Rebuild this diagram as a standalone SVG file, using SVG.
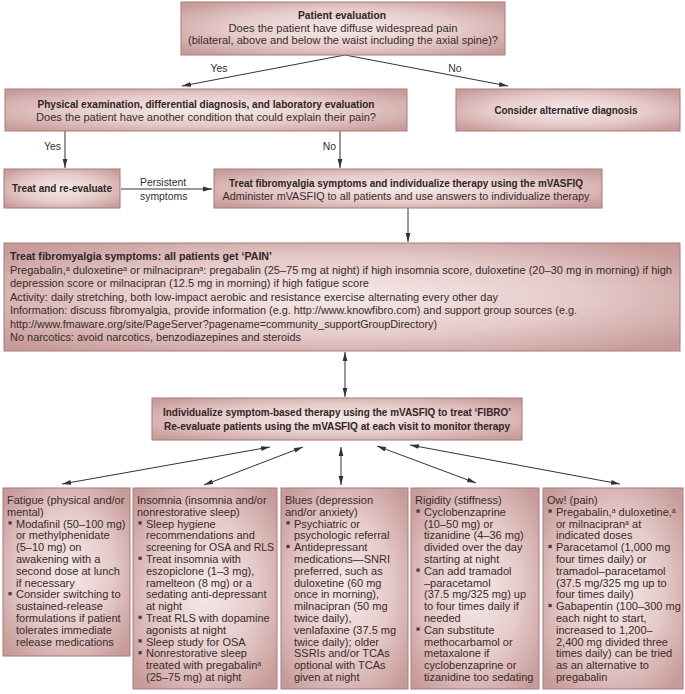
<svg xmlns="http://www.w3.org/2000/svg" width="685" height="694" viewBox="0 0 685 694">
<defs>
<radialGradient id="g" cx="50%" cy="50%" r="65%">
<stop offset="0" stop-color="#f5eaea"/>
<stop offset="0.55" stop-color="#e5cbc9"/>
<stop offset="1" stop-color="#c79b99"/>
</radialGradient>
<marker id="ah" viewBox="0 0 9 6" refX="9" refY="3" markerWidth="9" markerHeight="6" orient="auto-start-reverse" markerUnits="userSpaceOnUse">
<path d="M0,0.6 L9,3 L0,5.4 z" fill="#333"/>
</marker>
<style>
.box{fill:url(#g);stroke:#a67c7a;stroke-width:1}
text{font-family:"Liberation Sans",Arial,Helvetica,sans-serif;font-size:10.8px;fill:#3a2b2b}
.h{font-weight:bold;fill:#332525}
.c{text-anchor:middle}
.s{font-size:11px}
.lb{font-size:10.4px;fill:#2f2f2f}
.sup{font-size:7px}
.ln{stroke:#333;stroke-width:1;fill:none}
.a1{marker-end:url(#ah)}
.a2{marker-start:url(#ah);marker-end:url(#ah)}
.b{fill:#4a3838}
</style>
</defs>
<rect width="685" height="694" fill="#ffffff"/>

<g id="connectors">
<path class="ln a1" d="M345,55 L182,86"/>
<path class="ln a1" d="M345,55 L508,86"/>
<path class="ln a1" d="M65,131 L65,168"/>
<path class="ln a1" d="M340,131 L340,168"/>
<path class="ln a1" d="M121,189 L212,189"/>
<path class="ln a1" d="M408,208 L408,242"/>
<path class="ln a2" d="M345,352 L345,397"/>
<path class="ln a2" d="M270,447 L62,484"/>
<path class="ln a2" d="M303,447 L204,485"/>
<path class="ln a2" d="M341,447 L341,485"/>
<path class="ln a2" d="M377,446 L476,483"/>
<path class="ln a2" d="M410,445 L620,484"/>
<text class="lb c" x="219" y="72">Yes</text>
<text class="lb c" x="455" y="72">No</text>
<text class="lb" x="61" y="150" text-anchor="end">Yes</text>
<text class="lb" x="336" y="150" text-anchor="end">No</text>
<text class="lb" x="140" y="186">Persistent</text>
<text class="lb" x="140" y="200">symptoms</text>
</g>

<g id="patient-evaluation">
<rect class="box" x="181" y="2" width="324" height="53"/>
<text class="h c" x="342" y="19" textLength="88" lengthAdjust="spacingAndGlyphs">Patient evaluation</text>
<text class="c" x="343" y="31.5" textLength="229" lengthAdjust="spacingAndGlyphs">Does the patient have diffuse widespread pain</text>
<text class="c" x="343" y="44" textLength="310" lengthAdjust="spacingAndGlyphs">(bilateral, above and below the waist including the axial spine)?</text>
</g>

<g id="physical-examination">
<rect class="box" x="5" y="89" width="402" height="42"/>
<text class="h c" x="206" y="107.5" textLength="337" lengthAdjust="spacingAndGlyphs">Physical examination, differential diagnosis, and laboratory evaluation</text>
<text class="c" x="206" y="120.5" textLength="340" lengthAdjust="spacingAndGlyphs">Does the patient have another condition that could explain their pain?</text>
</g>

<g id="alternative-diagnosis">
<rect class="box" x="456" y="89" width="224" height="42"/>
<text class="h c" x="566" y="114" textLength="143" lengthAdjust="spacingAndGlyphs">Consider alternative diagnosis</text>
</g>

<g id="treat-reevaluate">
<rect class="box" x="4" y="169" width="116" height="39"/>
<text class="h c" x="62" y="192" textLength="100" lengthAdjust="spacingAndGlyphs">Treat and re-evaluate</text>
</g>

<g id="treat-fibromyalgia">
<rect class="box" x="214" y="169" width="388" height="39"/>
<text class="h c" x="406" y="187" textLength="354" lengthAdjust="spacingAndGlyphs">Treat fibromyalgia symptoms and individualize therapy using the mVASFIQ</text>
<text class="c" x="406" y="200" textLength="367" lengthAdjust="spacingAndGlyphs">Administer mVASFIQ to all patients and use answers to individualize therapy</text>
</g>

<g id="pain">
<rect class="box" x="4" y="243" width="676" height="108"/>
<text class="h" x="10" y="260" textLength="262" lengthAdjust="spacingAndGlyphs">Treat fibromyalgia symptoms: all patients get ‘PAIN’</text>
<text x="10" y="273.5" textLength="662" lengthAdjust="spacingAndGlyphs">Pregabalin,<tspan class="sup" baseline-shift="super">a</tspan> duloxetine<tspan class="sup" baseline-shift="super">a</tspan> or milnacipran<tspan class="sup" baseline-shift="super">a</tspan>: pregabalin (25–75 mg at night) if high insomnia score, duloxetine (20–30 mg in morning) if high</text>
<text x="10" y="287" textLength="359" lengthAdjust="spacingAndGlyphs">depression score or milnacipran (12.5 mg in morning) if high fatigue score</text>
<text x="10" y="300.5" textLength="488" lengthAdjust="spacingAndGlyphs">Activity: daily stretching, both low-impact aerobic and resistance exercise alternating every other day</text>
<text x="10" y="314" textLength="567" lengthAdjust="spacingAndGlyphs">Information: discuss fibromyalgia, provide information (e.g. http://www.knowfibro.com) and support group sources (e.g.</text>
<text x="10" y="327.5" textLength="427" lengthAdjust="spacingAndGlyphs">http://www.fmaware.org/site/PageServer?pagename=community_supportGroupDirectory)</text>
<text x="10" y="341" textLength="291" lengthAdjust="spacingAndGlyphs">No narcotics: avoid narcotics, benzodiazepines and steroids</text>
</g>

<g id="fibro">
<rect class="box" x="152" y="398" width="370" height="42"/>
<text class="h c" x="337" y="415.5" textLength="348" lengthAdjust="spacingAndGlyphs">Individualize symptom-based therapy using the mVASFIQ to treat ‘FIBRO’</text>
<text class="h c" x="337" y="430" textLength="346" lengthAdjust="spacingAndGlyphs">Re-evaluate patients using the mVASFIQ at each visit to monitor therapy</text>
</g>

<g id="fatigue">
<rect class="box" x="3" y="488" width="127" height="168"/>
<rect class="b" x="8.5" y="521.3" width="3.2" height="3.2"/>
<rect class="b" x="8.5" y="592.1" width="3.2" height="3.2"/>
<text class="s">
<tspan x="7" y="504">Fatigue (physical and/or</tspan>
<tspan x="7" y="515.8">mental)</tspan>
<tspan x="16" y="527.6">Modafinil (50–100 mg)</tspan>
<tspan x="16" y="539.4">or methylphenidate</tspan>
<tspan x="16" y="551.2">(5–10 mg) on</tspan>
<tspan x="16" y="563">awakening with a</tspan>
<tspan x="16" y="574.8">second dose at lunch</tspan>
<tspan x="16" y="586.6">if necessary</tspan>
<tspan x="16" y="598.4">Consider switching to</tspan>
<tspan x="16" y="610.2">sustained-release</tspan>
<tspan x="16" y="622">formulations if patient</tspan>
<tspan x="16" y="633.8">tolerates immediate</tspan>
<tspan x="16" y="645.6">release medications</tspan>
</text>
</g>

<g id="insomnia">
<rect class="box" x="133" y="488" width="144" height="201"/>
<rect class="b" x="138.5" y="521.3" width="3.2" height="3.2"/>
<rect class="b" x="138.5" y="556.7" width="3.2" height="3.2"/>
<rect class="b" x="138.5" y="615.7" width="3.2" height="3.2"/>
<rect class="b" x="138.5" y="639.3" width="3.2" height="3.2"/>
<rect class="b" x="138.5" y="651.1" width="3.2" height="3.2"/>
<text class="s">
<tspan x="137" y="504">Insomnia (insomnia and/or</tspan>
<tspan x="137" y="515.8">nonrestorative sleep)</tspan>
<tspan x="146" y="527.6">Sleep hygiene</tspan>
<tspan x="146" y="539.4">recommendations and</tspan>
</text>
<text class="s" x="146" y="551.2" textLength="128" lengthAdjust="spacingAndGlyphs">screening for OSA and RLS</text>
<text class="s">
<tspan x="146" y="563">Treat insomnia with</tspan>
<tspan x="146" y="574.8">eszopiclone (1–3 mg),</tspan>
<tspan x="146" y="586.6">ramelteon (8 mg) or a</tspan>
<tspan x="146" y="598.4">sedating anti-depressant</tspan>
<tspan x="146" y="610.2">at night</tspan>
<tspan x="146" y="622">Treat RLS with dopamine</tspan>
<tspan x="146" y="633.8">agonists at night</tspan>
<tspan x="146" y="645.6">Sleep study for OSA</tspan>
<tspan x="146" y="657.4">Nonrestorative sleep</tspan>
<tspan x="146" y="669.2">treated with pregabalin<tspan class="sup" baseline-shift="super">a</tspan></tspan>
<tspan x="146" y="681">(25–75 mg) at night</tspan>
</text>
</g>

<g id="blues">
<rect class="box" x="281" y="488" width="127" height="201"/>
<rect class="b" x="286.5" y="521.3" width="3.2" height="3.2"/>
<rect class="b" x="286.5" y="544.9" width="3.2" height="3.2"/>
<text class="s">
<tspan x="285" y="504">Blues (depression</tspan>
<tspan x="285" y="515.8">and/or anxiety)</tspan>
<tspan x="294" y="527.6">Psychiatric or</tspan>
<tspan x="294" y="539.4">psychologic referral</tspan>
<tspan x="294" y="551.2">Antidepressant</tspan>
<tspan x="294" y="563">medications—SNRI</tspan>
<tspan x="294" y="574.8">preferred, such as</tspan>
<tspan x="294" y="586.6">duloxetine (60 mg</tspan>
<tspan x="294" y="598.4">once in morning),</tspan>
<tspan x="294" y="610.2">milnacipran (50 mg</tspan>
<tspan x="294" y="622">twice daily),</tspan>
<tspan x="294" y="633.8">venlafaxine (37.5 mg</tspan>
<tspan x="294" y="645.6">twice daily); older</tspan>
<tspan x="294" y="657.4">SSRIs and/or TCAs</tspan>
<tspan x="294" y="669.2">optional with TCAs</tspan>
<tspan x="294" y="681">given at night</tspan>
</text>
</g>

<g id="rigidity">
<rect class="box" x="411" y="488" width="128" height="201"/>
<rect class="b" x="416.5" y="509.5" width="3.2" height="3.2"/>
<rect class="b" x="416.5" y="568.5" width="3.2" height="3.2"/>
<rect class="b" x="416.5" y="627.5" width="3.2" height="3.2"/>
<text class="s">
<tspan x="415" y="504">Rigidity (stiffness)</tspan>
<tspan x="424" y="515.8">Cyclobenzaprine</tspan>
<tspan x="424" y="527.6">(10–50 mg) or</tspan>
<tspan x="424" y="539.4">tizanidine (4–36 mg)</tspan>
<tspan x="424" y="551.2">divided over the day</tspan>
<tspan x="424" y="563">starting at night</tspan>
<tspan x="424" y="574.8">Can add tramadol</tspan>
<tspan x="424" y="586.6">–paracetamol</tspan>
<tspan x="424" y="598.4">(37.5 mg/325 mg) up</tspan>
<tspan x="424" y="610.2">to four times daily if</tspan>
<tspan x="424" y="622">needed</tspan>
<tspan x="424" y="633.8">Can substitute</tspan>
<tspan x="424" y="645.6">methocarbamol or</tspan>
<tspan x="424" y="657.4">metaxalone if</tspan>
<tspan x="424" y="669.2">cyclobenzaprine or</tspan>
<tspan x="424" y="681">tizanidine too sedating</tspan>
</text>
</g>

<g id="ow">
<rect class="box" x="543" y="488" width="140" height="201"/>
<rect class="b" x="548.5" y="509.5" width="3.2" height="3.2"/>
<rect class="b" x="548.5" y="544.9" width="3.2" height="3.2"/>
<rect class="b" x="548.5" y="603.9" width="3.2" height="3.2"/>
<text class="s">
<tspan x="547" y="504">Ow! (pain)</tspan>
<tspan x="556" y="515.8">Pregabalin,<tspan class="sup" baseline-shift="super">a</tspan> duloxetine,<tspan class="sup" baseline-shift="super">a</tspan></tspan>
<tspan x="556" y="527.6">or milnacipran<tspan class="sup" baseline-shift="super">a</tspan> at</tspan>
<tspan x="556" y="539.4">indicated doses</tspan>
<tspan x="556" y="551.2">Paracetamol (1,000 mg</tspan>
<tspan x="556" y="563">four times daily) or</tspan>
<tspan x="556" y="574.8">tramadol–paracetamol</tspan>
<tspan x="556" y="586.6">(37.5 mg/325 mg up to</tspan>
<tspan x="556" y="598.4">four times daily)</tspan>
<tspan x="556" y="610.2">Gabapentin (100–300 mg</tspan>
<tspan x="556" y="622">each night to start,</tspan>
<tspan x="556" y="633.8">increased to 1,200–</tspan>
<tspan x="556" y="645.6">2,400 mg divided three</tspan>
<tspan x="556" y="657.4">times daily) can be tried</tspan>
<tspan x="556" y="669.2">as an alternative to</tspan>
<tspan x="556" y="681">pregabalin</tspan>
</text>
</g>
</svg>
